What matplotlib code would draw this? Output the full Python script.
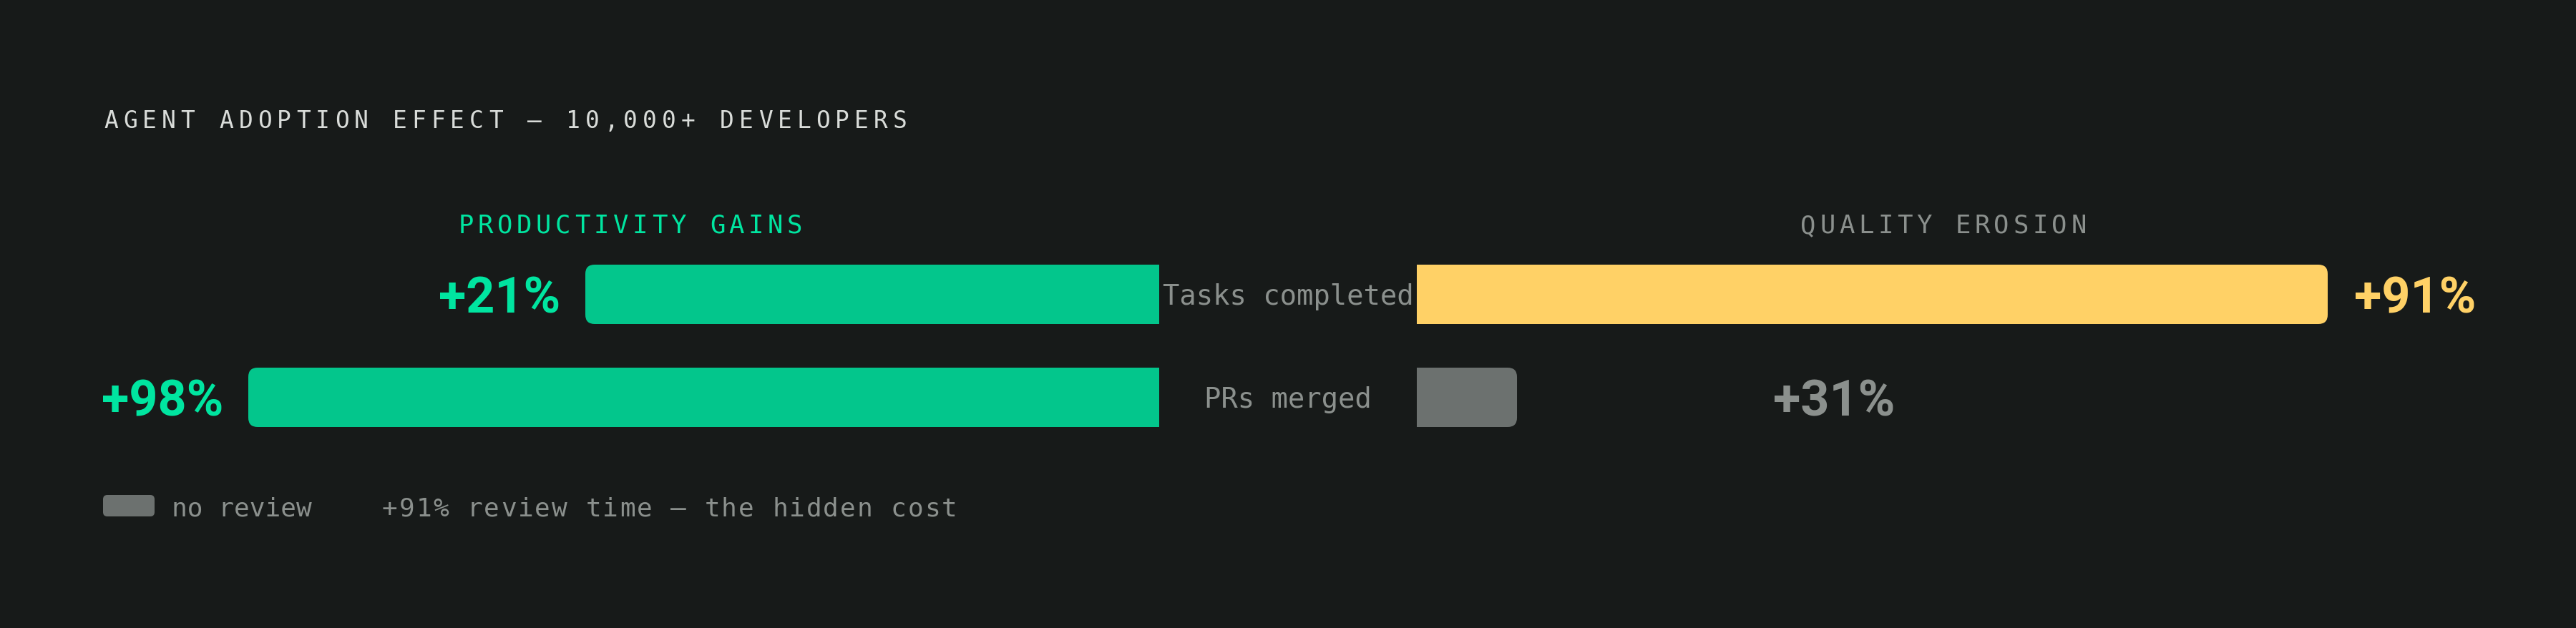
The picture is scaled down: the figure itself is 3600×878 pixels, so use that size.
import matplotlib
matplotlib.use("Agg")
import matplotlib.pyplot as plt
from matplotlib.patches import FancyBboxPatch

# ---- data ----
title = "AGENT ADOPTION EFFECT — 10,000+ DEVELOPERS"
left_head = "PRODUCTIVITY GAINS"
right_head = "QUALITY EROSION"
metrics = ["Tasks completed", "PRs merged"]
gain_pct = [21, 98]
gain_len = [63, 100]          # bar length as % of the panel track
erosion_pct = [91, 31]
erosion_len = [100, 11]       # second bar is the "no review" share
erosion_tag_at = [100, 36.2]  # where the value tag sits on the track
legend_items = ["no review", "+91% review time — the hidden cost"]

# ---- style ----
BG = "#171a19"
GREEN = "#03c68c"
GREEN_TXT = "#00e5a0"
YELLOW = "#ffd166"
GREY_BAR = "#6c716f"
GREY_TXT = "#8b908d"
TITLE_TXT = "#d9dcd9"
MONO = ["DejaVu Sans Mono"]
NUM = ["Roboto", "DejaVu Sans"]

W, H = 3600, 879
fig = plt.figure(figsize=(W / 100, H / 100), dpi=100, facecolor=BG)

# overlay in pixel units for the free text
ax_o = fig.add_axes([0, 0, 1, 1])
ax_o.set_xlim(0, W)
ax_o.set_ylim(H, 0)
ax_o.axis("off")
ax_o.patch.set_alpha(0)


def spaced(ax, x, y, s, pitch, size, color):
    # monospace text with letter spacing, one glyph per cell
    adv = 0.602 * size * 100 / 72
    for i, ch in enumerate(s):
        if ch == " ":
            continue
        ax.text(x + i * pitch + adv / 2, y, ch, ha="center", va="baseline",
                fontsize=size, color=color, family=MONO)


def spaced_centered(ax, cx, y, s, pitch, size, color):
    adv = 0.602 * size * 100 / 72
    span = (len(s) - 1) * pitch + adv
    spaced(ax, cx - span / 2, y, s, pitch, size, color)


spaced(ax_o, 145, 179, title, 26.9, 23.7, TITLE_TXT)
spaced_centered(ax_o, 881, 326, left_head, 27.0, 25.7, GREEN_TXT)
spaced_centered(ax_o, 2716, 326, right_head, 27.0, 25.7, GREY_TXT)

# ---- bar panels ----
rows = list(range(len(metrics)))
track_px = 1273
row_px = 144
bar_h = 83 / row_px
ax_l = fig.add_axes([347 / W, 1 - 628.5 / H, track_px / W, 2 * row_px / H])
ax_r = fig.add_axes([1980 / W, 1 - 628.5 / H, track_px / W, 2 * row_px / H])
for ax in (ax_l, ax_r):
    ax.set_ylim(1.5, -0.5)
    ax.axis("off")
    ax.patch.set_alpha(0)
ax_l.set_xlim(100, 0)
ax_r.set_xlim(0, 100)


def round_outer(ax, bars, color, radius_px=13):
    rx = radius_px * 100 / track_px
    ry = radius_px / row_px
    for b in bars:
        x0, y0, w, h = b.get_x(), b.get_y(), b.get_width(), b.get_height()
        b.set_width(max(w - rx, 0))
        ax.add_patch(FancyBboxPatch((x0, y0), w, h,
                                    boxstyle=f"round,pad=0,rounding_size={rx}",
                                    mutation_aspect=ry / rx,
                                    facecolor=color, edgecolor="none"))


bl = ax_l.barh(rows, gain_len, height=bar_h, color=GREEN, linewidth=0)
round_outer(ax_l, bl, GREEN)
br = ax_r.barh(rows, erosion_len, height=bar_h,
               color=[YELLOW, GREY_BAR], linewidth=0)
round_outer(ax_r, br[:1], YELLOW)
round_outer(ax_r, br[1:], GREY_BAR)

for i in rows:
    ax_l.annotate(f"+{gain_pct[i]}%", (gain_len[i], i), xytext=(-35, -25),
                  textcoords="offset pixels", ha="right", va="baseline",
                  fontsize=50.5, fontweight="bold", color=GREEN_TXT, family=NUM)
    ax_r.annotate(f"+{erosion_pct[i]}%", (erosion_tag_at[i], i), xytext=(37, -25),
                  textcoords="offset pixels", ha="left", va="baseline",
                  fontsize=50.5, fontweight="bold",
                  color=YELLOW if i == 0 else GREY_TXT, family=NUM)
    ax_l.annotate(metrics[i], (0.5, i), xycoords=("figure fraction", "data"),
                  xytext=(0, -14), textcoords="offset pixels",
                  ha="center", va="baseline", fontsize=28,
                  color=GREY_TXT, family=MONO)

# ---- legend line ----
ax_o.add_patch(FancyBboxPatch((144, 693), 72, 30,
                              boxstyle="round,pad=0,rounding_size=6",
                              facecolor=GREY_BAR, edgecolor="none"))
ax_o.text(240, 722, legend_items[0], ha="left", va="baseline",
          fontsize=26, color=GREY_TXT, family=MONO)
spaced(ax_o, 534, 722, legend_items[1], 23.7, 26, GREY_TXT)

fig.savefig("out.png", dpi=100, facecolor=BG)
